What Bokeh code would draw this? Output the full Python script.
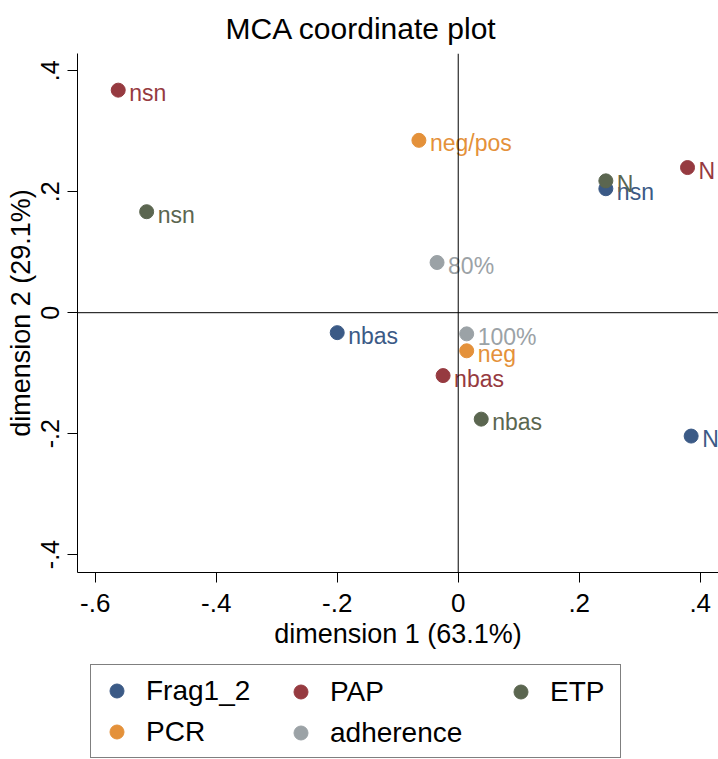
from bokeh.plotting import figure
from bokeh.layouts import column
from bokeh.models import ColumnDataSource, Span, Legend, LegendItem, FixedTicker, Range1d
from bokeh.core.properties import value
from bokeh.embed import file_html
from bokeh.resources import INLINE

# ---- data ----
groups = ["Frag1_2", "PAP", "ETP", "PCR", "adherence"]
colors = ["#3b5a86", "#963a40", "#5b6650", "#e4913a", "#9ba2a6"]

frag_labels = ["nbas", "nsn", "N"]
frag_dim1 = [-0.200, 0.244, 0.385]
frag_dim2 = [-0.033, 0.205, -0.204]

pap_labels = ["nsn", "N", "nbas"]
pap_dim1 = [-0.562, 0.379, -0.025]
pap_dim2 = [0.368, 0.240, -0.104]

etp_labels = ["nsn", "N", "nbas"]
etp_dim1 = [-0.515, 0.244, 0.038]
etp_dim2 = [0.167, 0.218, -0.176]

pcr_labels = ["neg/pos", "neg"]
pcr_dim1 = [-0.065, 0.014]
pcr_dim2 = [0.285, -0.063]

adh_labels = ["80%", "100%"]
adh_dim1 = [-0.035, 0.014]
adh_dim2 = [0.083, -0.035]

x_ticks = [-0.6, -0.4, -0.2, 0.0, 0.2, 0.4]
x_tick_labels = ["-.6", "-.4", "-.2", "0", ".2", ".4"]
y_ticks = [-0.4, -0.2, 0.0, 0.2, 0.4]
y_tick_labels = ["-.4", "-.2", "0", ".2", ".4"]

series = [
    (frag_labels, frag_dim1, frag_dim2),
    (pap_labels, pap_dim1, pap_dim2),
    (etp_labels, etp_dim1, etp_dim2),
    (pcr_labels, pcr_dim1, pcr_dim2),
    (adh_labels, adh_dim1, adh_dim2),
]

# Stata key layout: 3 columns
legend_columns = [["Frag1_2", "PCR"], ["PAP", "adherence"], ["ETP"]]

FONT = "Liberation Sans"
W = 718
H_MAIN = 660
H_KEY = 99

# ---------------- main plot ----------------
p = figure(width=W, height=H_MAIN, output_backend="svg", toolbar_location=None,
           x_range=(-0.6293, 0.4302), y_range=(-0.4296, 0.4286),
           min_border_left=77, min_border_right=0, min_border_top=52,
           min_border_bottom=H_MAIN - 52 - 520,
           title="MCA coordinate plot")
p.background_fill_color = "white"
p.border_fill_color = "white"
p.outline_line_color = None
p.grid.visible = False

p.title.text_font = FONT
p.title.text_font_size = "30px"
p.title.text_font_style = "normal"
p.title.text_color = "black"
p.title.align = "left"
p.title.offset = 148
p.title.standoff = 18

for ax in (p.xaxis[0], p.yaxis[0]):
    ax.axis_line_color = "black"
    ax.axis_line_width = 1
    ax.major_tick_out = 10
    ax.major_tick_in = 0
    ax.major_tick_line_color = "black"
    ax.minor_tick_line_color = None
    ax.major_label_text_font = FONT
    ax.major_label_text_color = "black"
    ax.axis_label_text_font = FONT
    ax.axis_label_text_font_style = "normal"
    ax.axis_label_text_color = "black"

p.xaxis.ticker = FixedTicker(ticks=x_ticks)
p.xaxis.major_label_overrides = dict(zip(x_ticks, x_tick_labels))
p.yaxis.ticker = FixedTicker(ticks=y_ticks)
p.yaxis.major_label_overrides = dict(zip(y_ticks, y_tick_labels))

p.xaxis.axis_label = "dimension 1 (63.1%)"
p.xaxis.axis_label_text_font_size = "27px"
p.xaxis.major_label_text_font_size = "26px"
p.xaxis.major_label_standoff = 11
p.xaxis.axis_label_standoff = 4

p.yaxis.axis_label = "dimension 2 (29.1%)"
p.yaxis.axis_label_text_font_size = "27px"
p.yaxis.major_label_text_font_size = "25px"
p.yaxis.major_label_orientation = "vertical"
p.yaxis.major_label_standoff = 8
p.yaxis.axis_label_standoff = 3

p.add_layout(Span(location=0, dimension="height", line_color="black", line_width=1))
p.add_layout(Span(location=0, dimension="width", line_color="black", line_width=1))

sources = {}
for name, col, (labs, xs, ys) in zip(groups, colors, series):
    src = ColumnDataSource(dict(x=xs, y=ys, lab=labs))
    sources[name] = src
    p.scatter("x", "y", source=src, size=14, fill_color=col, line_color=col)
    p.text("x", "y", text="lab", source=src, text_color=col, text_font=value(FONT),
           text_font_size="23px", text_align="left", text_baseline="middle",
           x_offset=11, y_offset=3)

# ---------------- key strip ----------------
lf = figure(width=W, height=H_KEY, output_backend="svg", toolbar_location=None,
            x_range=Range1d(0, 1), y_range=Range1d(0, 1),
            min_border_left=77, min_border_right=0, min_border_top=0, min_border_bottom=0,
            x_axis_location=None, y_axis_location=None)
lf.grid.visible = False
lf.outline_line_color = None
lf.background_fill_color = "white"
lf.border_fill_color = "white"

key_renderers = {}
for name, col in zip(groups, colors):
    r = lf.scatter("x", "y", source=sources[name], size=14, fill_color=col, line_color=col)
    r.visible = False          # only used to draw the key symbols
    key_renderers[name] = r

key_style = dict(orientation="vertical", glyph_width=35, glyph_height=35,
                 label_standoff=12, spacing=6, padding=8, margin=0,
                 label_text_font=FONT, label_text_font_size="28px",
                 label_text_color="black", border_line_color="black",
                 border_line_width=1)
col_x = [13, 198, 418]
col_y = [1, 1, 42]
for i, (names, vx, vy) in enumerate(zip(legend_columns, col_x, col_y)):
    its = [LegendItem(label=n, renderers=[key_renderers[n]]) for n in names]
    if i == 0:
        lg = Legend(items=its, location=(vx, vy), label_width=466,
                    background_fill_color="white", background_fill_alpha=1,
                    **key_style)
    else:
        lg = Legend(items=its, location=(vx, vy), border_line_alpha=0,
                    background_fill_alpha=0, **key_style)
    lf.add_layout(lg, "center")

layout = column(p, lf, spacing=0)
open("out.html", "w").write(file_html(layout, INLINE))
